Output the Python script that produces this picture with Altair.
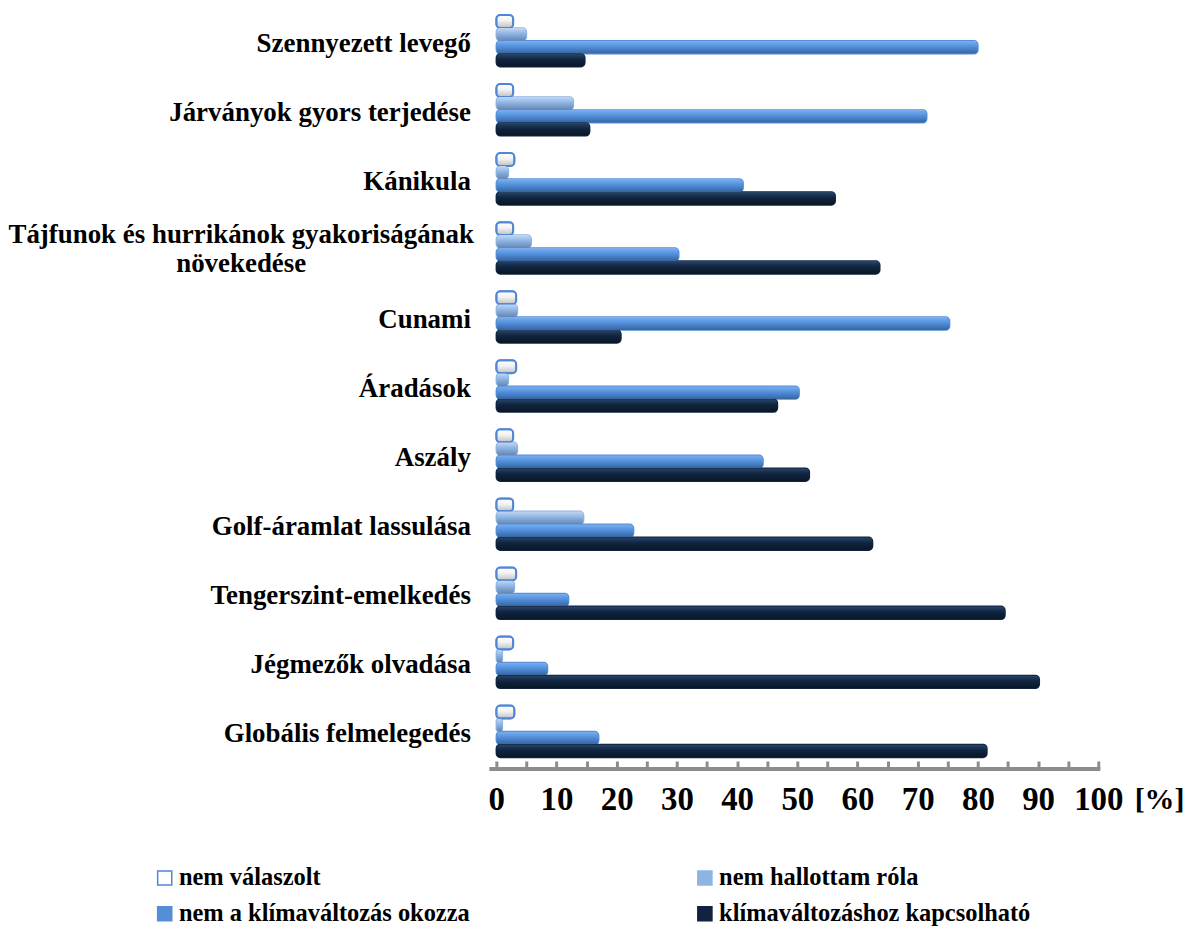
import altair as alt
import pandas as pd

categories = [
    "Szennyezett levegő",
    "Járványok gyors terjedése",
    "Kánikula",
    "Tájfunok és hurrikánok gyakoriságának növekedése",
    "Cunami",
    "Áradások",
    "Aszály",
    "Golf-áramlat lassulása",
    "Tengerszint-emelkedés",
    "Jégmezők olvadása",
    "Globális felmelegedés",
]
series = [
    "nem válaszolt",
    "nem hallottam róla",
    "nem a klímaváltozás okozza",
    "klímaváltozáshoz kapcsolható",
]
nem_valaszolt = [2.8, 2.8, 3.0, 2.8, 3.3, 3.3, 2.8, 2.8, 3.3, 2.8, 3.0]
nem_hallottam = [5.0, 12.8, 2.0, 5.8, 3.5, 2.0, 3.5, 14.5, 3.0, 1.0, 1.0]
nem_klima = [80.0, 71.5, 41.0, 30.3, 75.3, 50.3, 44.3, 22.8, 12.0, 8.5, 17.0]
klima = [14.7, 15.5, 56.3, 63.7, 20.7, 46.7, 52.0, 62.5, 84.5, 90.2, 81.5]
x_ticks = list(range(0, 101, 5))

rows = []
for s, vals in zip(series, [nem_valaszolt, nem_hallottam, nem_klima, klima]):
    for c, v in zip(categories, vals):
        rows.append({"cat": c, "series": s, "value": v})
df = pd.DataFrame(rows)

FONT = "Liberation Serif"
H = 754
W = 604
flat_colors = ["#FFFFFF", "#8EB4E3", "#558ED5", "#10243E"]
stroke_colors = ["#4F86D8", "#8EB4E3", "#558ED5", "#10243E"]


def grad(c0, c1, c2):
    return {
        "gradient": "linear",
        "x1": 0, "y1": 0, "x2": 0, "y2": 1,
        "stops": [
            {"offset": 0, "color": c0},
            {"offset": 0.45, "color": c1},
            {"offset": 1, "color": c2},
        ],
    }


grads = [
    grad("#FFFFFF", "#F2F2F2", "#BFBFBF"),
    grad("#C3D8F3", "#8EB4E3", "#6485B0"),
    grad("#7DB0F0", "#5290DC", "#36639E"),
    grad("#28466C", "#10243E", "#091727"),
]

y_enc = alt.Y(
    "cat:N",
    sort=categories,
    scale=alt.Scale(paddingInner=0.25, paddingOuter=0.065, align=0.6),
    axis=alt.Axis(
        title=None, domain=False, ticks=False,
        labelFont=FONT, labelFontWeight="bold", labelFontSize=27,
        labelColor="black", labelPadding=26, labelLimit=0, labelOffset=3,
        minExtent=489, maxExtent=489,
        labelExpr="indexof(datum.label, 'Tájfunok') >= 0 ? '' : datum.label",
    ),
)
yoff_enc = alt.YOffset("series:N", sort=series, scale=alt.Scale(paddingInner=0, paddingOuter=0))
x_enc = alt.X(
    "value:Q",
    scale=alt.Scale(domain=[0, 100], nice=False),
    axis=alt.Axis(
        values=x_ticks,
        labelExpr="datum.value % 10 == 0 ? datum.label : ''",
        labelFlush=False, labelOverlap=False,
        domain=False, grid=False,
        tickSize=8, tickWidth=3, tickColor="#8C8C8C",
        labelFont=FONT, labelFontWeight="bold", labelFontSize=33,
        labelColor="black", labelPadding=15,
        title="[%]", titleX=640, titleY=24, titleAlign="left", titleBaseline="top",
        titleFont=FONT, titleFontWeight="bold", titleFontSize=30, titleColor="black",
    ),
)

legend = alt.Legend(
    title=None, orient="none", legendX=-345, legendY=859,
    columns=2, direction="horizontal", columnPadding=223, rowPadding=11,
    symbolType="square", symbolSize=200, symbolStrokeWidth=1.5,
    labelFont=FONT, labelFontWeight="bold", labelFontSize=24.5,
    labelColor="black", labelLimit=0, labelOffset=2,
)

base = alt.Chart(df).encode(y=y_enc, yOffset=yoff_enc, x=x_enc)

flat = base.mark_bar(cornerRadius=4, strokeWidth=1.5).encode(
    color=alt.Color("series:N", sort=series, scale=alt.Scale(domain=series, range=flat_colors), legend=legend),
    stroke=alt.Stroke("series:N", sort=series, scale=alt.Scale(domain=series, range=stroke_colors), legend=legend),
)

layers = [flat]
for i, s in enumerate(series):
    props = dict(cornerRadius=4, color=grads[i])
    if i == 0:
        props.update(stroke="#4F86D8", strokeWidth=2)
    layers.append(base.transform_filter(alt.datum.series == s).mark_bar(**props))

two_line = pd.DataFrame({
    "cat": [categories[3]],
    "label": [categories[3].replace(" növekedése", "\nnövekedése")],
})
txt = alt.Chart(two_line).mark_text(
    align="center", baseline="middle", lineBreak="\n", lineHeight=29,
    font=FONT, fontWeight="bold", fontSize=27, color="black", dy=-13,
).encode(y=y_enc, x=alt.value(-256), text="label:N")

axis_line = alt.Chart(pd.DataFrame({"v": [0]})).mark_rule(color="#8C8C8C", strokeWidth=4).encode(
    x=alt.value(-7), x2=alt.value(W + 2), y=alt.value(H + 8)
)

chart = alt.layer(*layers, txt, axis_line).properties(
    width=W, height=H, padding={"left": 0, "top": 0, "right": 0, "bottom": 0}
).configure_view(stroke=None)

chart.save("out.html", embed_options={"renderer": "svg", "actions": False})
